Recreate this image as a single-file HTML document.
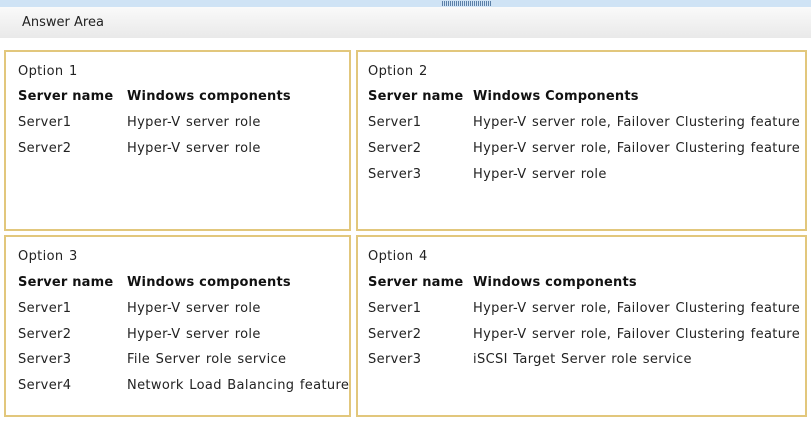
<!DOCTYPE html>
<html><head><meta charset="utf-8"><style>
body{margin:0;width:811px;height:422px;background:#fff;position:relative;overflow:hidden;font-family:"DejaVu Sans","Liberation Sans",sans-serif;font-size:13px;color:#222}
.top{position:absolute;left:0;top:0;width:811px;height:7px;background:#cfe3f5}
.grip{position:absolute;left:442px;top:1px;width:50px;height:5px;background:repeating-linear-gradient(90deg,#5a7fa8 0 1px,transparent 1px 2px)}
.hdr{position:absolute;left:0;top:7px;width:811px;height:31px;background:linear-gradient(#fafafa,#e9e9e9)}
.hdr span{position:absolute;left:22px;top:8px;font-size:13px;color:#222}
.box{position:absolute;border:2px solid #e2c77c;box-sizing:border-box}
.b{position:absolute;left:0;top:2px;width:811px;height:422px}
.t{position:absolute;white-space:nowrap;letter-spacing:0.35px;word-spacing:1px}
b.t{font-weight:bold;color:#111;letter-spacing:0.2px;word-spacing:0}
</style></head><body>
<div class="top"><div class="grip"></div></div>
<div class="hdr"><span>Answer Area</span></div>
<div class="box" style="left:4px;top:50px;width:347px;height:181px"></div>
<div class="box" style="left:356px;top:50px;width:451px;height:181px"></div>
<div class="box" style="left:4px;top:235px;width:347px;height:182px"></div>
<div class="box" style="left:356px;top:235px;width:451px;height:182px"></div>
<div class="b">
<div class="t" style="left:18px;top:62px">Option 1</div>
<b class="t" style="left:18px;top:87px">Server name</b><b class="t" style="left:127px;top:87px">Windows components</b>
<div class="t" style="left:18px;top:113px">Server1</div><div class="t" style="left:127px;top:113px">Hyper-V server role</div>
<div class="t" style="left:18px;top:139px">Server2</div><div class="t" style="left:127px;top:139px">Hyper-V server role</div>

<div class="t" style="left:368px;top:62px">Option 2</div>
<b class="t" style="left:368px;top:87px">Server name</b><b class="t" style="left:473px;top:87px">Windows Components</b>
<div class="t" style="left:368px;top:113px">Server1</div><div class="t" style="left:473px;top:113px">Hyper-V server role, Failover Clustering feature</div>
<div class="t" style="left:368px;top:139px">Server2</div><div class="t" style="left:473px;top:139px">Hyper-V server role, Failover Clustering feature</div>
<div class="t" style="left:368px;top:165px">Server3</div><div class="t" style="left:473px;top:165px">Hyper-V server role</div>

<div class="t" style="left:18px;top:247px">Option 3</div>
<b class="t" style="left:18px;top:273px">Server name</b><b class="t" style="left:127px;top:273px">Windows components</b>
<div class="t" style="left:18px;top:299px">Server1</div><div class="t" style="left:127px;top:299px">Hyper-V server role</div>
<div class="t" style="left:18px;top:325px">Server2</div><div class="t" style="left:127px;top:325px">Hyper-V server role</div>
<div class="t" style="left:18px;top:350px">Server3</div><div class="t" style="left:127px;top:350px">File Server role service</div>
<div class="t" style="left:18px;top:376px">Server4</div><div class="t" style="left:127px;top:376px">Network Load Balancing feature</div>

<div class="t" style="left:368px;top:247px">Option 4</div>
<b class="t" style="left:368px;top:273px">Server name</b><b class="t" style="left:473px;top:273px">Windows components</b>
<div class="t" style="left:368px;top:299px">Server1</div><div class="t" style="left:473px;top:299px">Hyper-V server role, Failover Clustering feature</div>
<div class="t" style="left:368px;top:325px">Server2</div><div class="t" style="left:473px;top:325px">Hyper-V server role, Failover Clustering feature</div>
<div class="t" style="left:368px;top:350px">Server3</div><div class="t" style="left:473px;top:350px">iSCSI Target Server role service</div>
</div>
</body></html>
